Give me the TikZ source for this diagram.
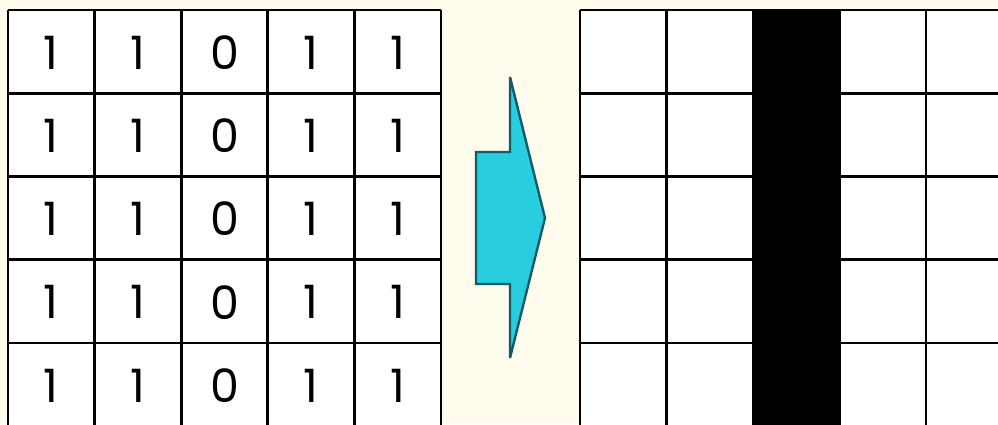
\documentclass[tikz,border=0pt]{standalone}
\usepackage{fontspec}
\setmainfont{Poppins}
\definecolor{bgcream}{HTML}{FFFCEE}
\definecolor{arrowfill}{HTML}{29CDE0}
\definecolor{arrowline}{HTML}{0F5B66}
\tikzset{
  gridline/.style={line width=2.8pt, black},
  digit/.style={font=\fontsize{46}{46}\selectfont, inner sep=0pt},
  bigarrow/.style={fill=arrowfill, draw=arrowline, line width=2.4pt, line join=miter, miter limit=2}
}
\begin{document}
\begin{tikzpicture}[x=1pt,y=-1pt]
\useasboundingbox (0,0) rectangle (998,424);
\fill[bgcream] (0,0) rectangle (998,424);
\clip (0,0) rectangle (998,424);
% left grid
\fill[white] (8,10) rectangle (441,430);
\foreach \i in {0,...,5} {
  \draw[gridline] ({8+86.6*\i},10) -- ({8+86.6*\i},430);
  \draw[gridline] (8,{10+83.25*\i}) -- (441,{10+83.25*\i});
}
\foreach \r in {0,...,4} {
  \foreach \c/\v in {0/1,1/1,2/0,3/1,4/1} {
    \node[digit] (d\r\c) at ({8+86.6*\c+43.3},{10+83.25*\r+42.5}) {\v};
  }
}
% arrow
\draw[bigarrow] (510,77) -- (545,218) -- (510,358) -- (510,284) -- (476,284) -- (476,152) -- (510,152) -- cycle;
% right grid
\fill[white] (580,10) rectangle (1020,430);
\fill[black] (753,10) rectangle (839.5,430);
\foreach \i in {0,...,5} {
  \draw[gridline] ({580+86.5*\i},10) -- ({580+86.5*\i},430);
  \draw[gridline] (580,{10+83.25*\i}) -- (1020,{10+83.25*\i});
}
\end{tikzpicture}
\end{document}
